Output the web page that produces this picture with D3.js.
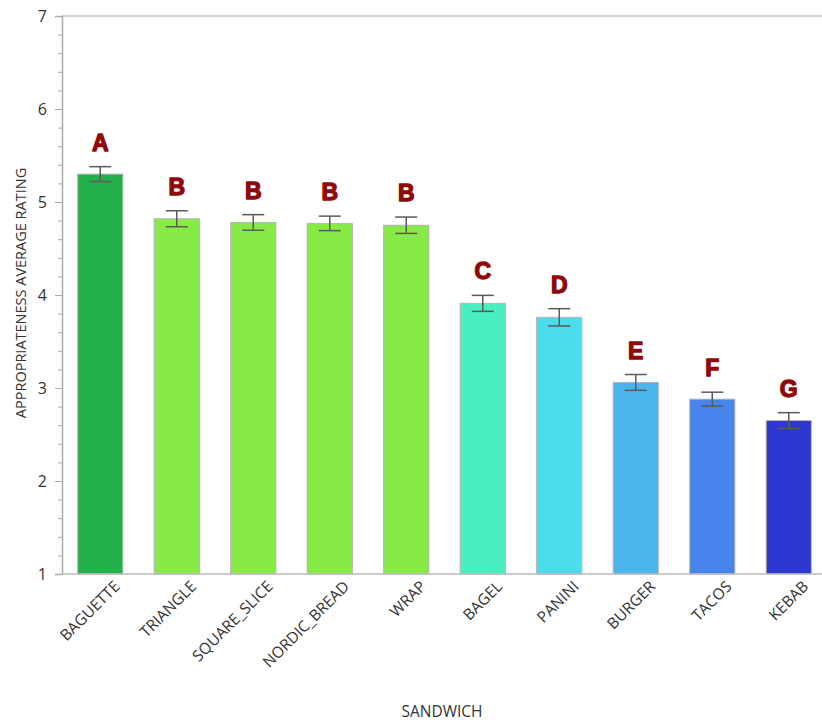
<!DOCTYPE html>
<html><head><meta charset="utf-8">
<script src="https://cdn.jsdelivr.net/npm/d3@7"></script>
<style>body{margin:0;background:#fff}svg{display:block}</style>
</head><body>
<svg id="c" width="822" height="724"></svg>
<script>
const categories = ["BAGUETTE","TRIANGLE","SQUARE_SLICE","NORDIC_BREAD","WRAP","BAGEL","PANINI","BURGER","TACOS","KEBAB"];
const means = [5.30,4.82,4.78,4.77,4.75,3.91,3.76,3.06,2.88,2.65];
const errors = [0.08,0.086,0.084,0.078,0.088,0.086,0.093,0.085,0.075,0.085];
const letters = ["A","B","B","B","B","C","D","E","F","G"];
const colors = ["#22b04b","#87ea47","#87ea47","#87ea47","#87ea47","#4aefbf","#4adcea","#4ab5ec","#4784ec","#2d36cf"];
const yTicks = [1,2,3,4,5,6,7];

const svg = d3.select("#c");
const L = 62, R = 827, T = 16, B = 574;
const x = d3.scaleBand().domain(categories).range([L, R]).paddingInner(0.41).paddingOuter(0.205);
const y = d3.scaleLinear().domain([1,7]).range([B, T]);
const font = "'Open Sans', 'Noto Sans', sans-serif";

// top frame line
svg.append("line").attr("x1",L).attr("x2",822).attr("y1",T).attr("y2",T).attr("stroke","#c4c4c4").attr("stroke-width",1.5);

// y axis
const ya = svg.append("g").attr("transform",`translate(${L},0)`)
  .call(d3.axisLeft(y).tickValues(yTicks).tickSize(7).tickPadding(8).tickFormat(d3.format("d")));
ya.select(".domain").attr("stroke","#aaa").attr("stroke-width",1.5);
ya.selectAll(".tick line").attr("stroke","#aaa");
ya.selectAll(".tick text").attr("font-family",font).attr("font-size",16).attr("fill","#333");
const minor = d3.range(1,7,0.2).map(v=>+v.toFixed(1)).filter(v=>!yTicks.includes(v));
const ym = svg.append("g").attr("transform",`translate(${L},0)`)
  .call(d3.axisLeft(y).tickValues(minor).tickSize(4).tickFormat(""));
ym.select(".domain").remove();
ym.selectAll(".tick line").attr("stroke","#aaa");

// bars
svg.append("g").selectAll("rect").data(categories).join("rect")
  .attr("x",d=>x(d)).attr("width",x.bandwidth())
  .attr("y",(d,i)=>y(means[i])).attr("height",(d,i)=>y(1)-y(means[i]))
  .attr("fill",(d,i)=>colors[i]).attr("stroke","#b5b5b5").attr("stroke-width",1);

// x axis
const xa = svg.append("g").attr("transform",`translate(0,${B})`)
  .call(d3.axisBottom(x).tickSize(0).tickPadding(8));
xa.select(".domain").attr("stroke","#bbb").attr("stroke-width",1.5).attr("d",`M${L},0H822`);
xa.selectAll(".tick text").attr("font-family",font).attr("font-size",15.5).attr("fill","#333")
  .attr("text-anchor","end").attr("dy","0.35em")
  .attr("transform","translate(11,4) rotate(-45)");

// error bars
const eg = svg.append("g").attr("stroke","#5a5a5a").attr("stroke-width",1.5);
categories.forEach((c,i)=>{
  const cx = x(c)+x.bandwidth()/2, hw = 11;
  eg.append("line").attr("x1",cx).attr("x2",cx).attr("y1",y(means[i]+errors[i])).attr("y2",y(means[i]-errors[i]));
  eg.append("line").attr("x1",cx-hw).attr("x2",cx+hw).attr("y1",y(means[i]+errors[i])).attr("y2",y(means[i]+errors[i]));
  eg.append("line").attr("x1",cx-hw).attr("x2",cx+hw).attr("y1",y(means[i]-errors[i])).attr("y2",y(means[i]-errors[i]));
});

// letters
svg.append("g").selectAll("text").data(categories).join("text")
  .attr("x",d=>x(d)+x.bandwidth()/2).attr("y",(d,i)=>y(means[i]+errors[i])-16)
  .attr("text-anchor","middle").attr("font-family","'Liberation Sans', Arial, sans-serif")
  .attr("font-weight","bold").attr("font-size",23).attr("fill","#8e0a0a")
  .attr("stroke","#8e0a0a").attr("stroke-width",1.3).attr("stroke-linejoin","round")
  .text((d,i)=>letters[i]);

// axis titles
svg.append("text").attr("transform","translate(26,293) rotate(-90)").attr("text-anchor","middle")
  .attr("font-family",font).attr("font-size",14.5).attr("fill","#333").text("APPROPRIATENESS AVERAGE RATING");
svg.append("text").attr("x",442).attr("y",717).attr("text-anchor","middle")
  .attr("font-family",font).attr("font-size",15.5).attr("fill","#333").text("SANDWICH");
</script>
</body></html>
